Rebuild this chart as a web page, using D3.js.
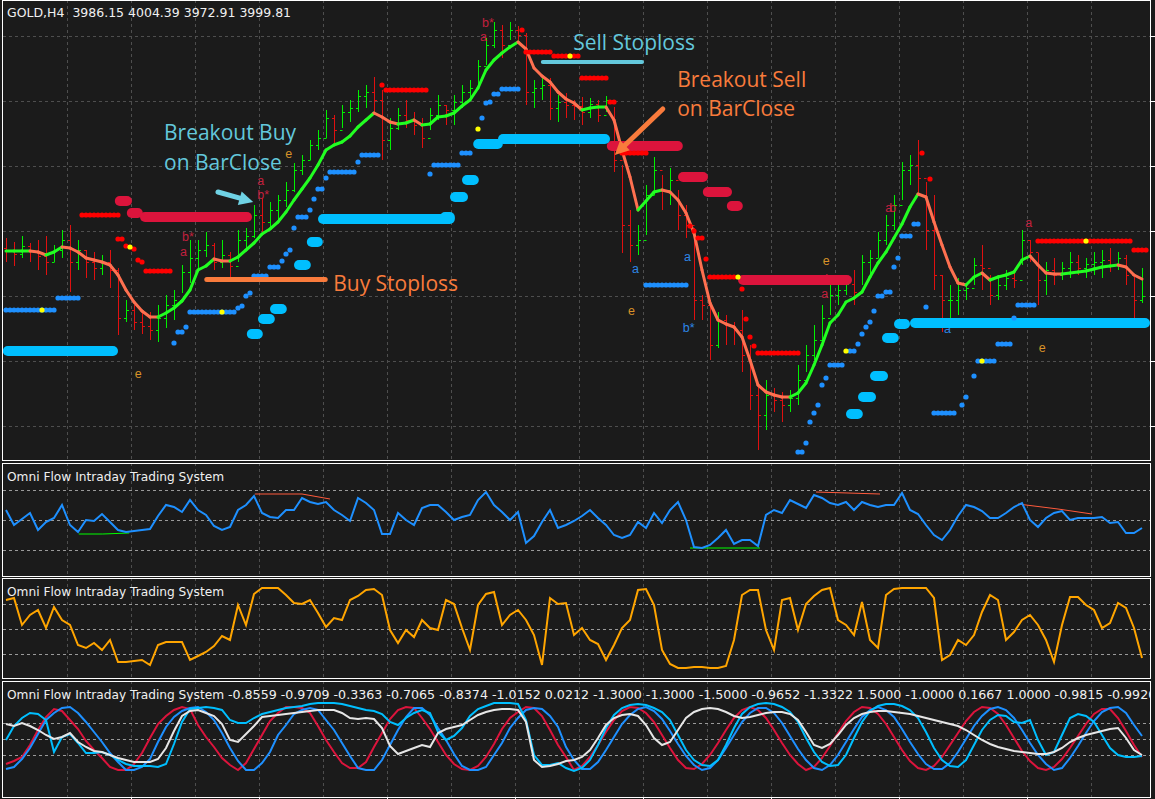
<!DOCTYPE html>
<html>
<head>
<meta charset="utf-8">
<title>GOLD,H4 - Omni Flow Intraday Trading System</title>
<style>
body { margin: 0; background: #1b1b1b; overflow: hidden; }
svg { display: block; }
</style>
</head>
<body>
<script src="https://cdn.jsdelivr.net/npm/d3@7"></script>
<script>
// ---- price bars (H4) ----
var firstOpen = 4048;
var barHigh = [4058,4054,4060,4053,4056,4060,4051,4066,4071,4056, 4046,4044,4041,4046,4028,3996,3991,3986,3984,3991,
  4001,4006,4031,4056,4056,4064,4053,4056,4044,4066, 4068,4091,4098,4094,4101,4114,4133,4141,4156,4166,
  4186,4181,4191,4196,4206,4211,4219,4206,4178,4188, 4196,4184,4178,4188,4201,4191,4201,4211,4216,4236,
  4258,4274,4271,4274,4270,4263,4216,4221,4218,4201, 4203,4196,4199,4198,4196,4200,4189,4131,4086,4071,
  4111,4139,4121,4128,4106,4091,4068,4001,3996,3984, 3981,3974,3986,3951,3911,3916,3908,3904,3906,3931,
  3951,3971,3991,4013,4011,4018,4026,4041,4046,4064, 4081,4101,4134,4141,4156,4114,4101,4021,4011,4018,
  4013,4038,4051,4021,4021,4026,4024,4066,4056,4043, 4034,4038,4034,4044,4041,4038,4044,4046,4048,4044,
  4041,4019,4028];
var barLow = [4034,4030,4038,4034,4026,4021,4034,4038,4004,4026, 4018,4016,4021,4008,3961,3974,3966,3962,3956,3954,
  3968,3976,4003,4013,4024,4039,4026,4028,4016,4034, 4046,4058,4064,4068,4076,4089,4104,4121,4136,4146,
  4158,4153,4168,4174,4184,4188,4184,4136,4146,4166, 4168,4161,4148,4166,4176,4171,4171,4188,4196,4211,
  4231,4248,4238,4256,4254,4191,4188,4196,4176,4174, 4178,4176,4171,4178,4174,4184,4124,4043,4034,4041,
  4061,4101,4086,4091,4066,4058,3976,3976,3936,3948, 3951,3951,3924,3886,3846,3866,3884,3874,3884,3891,
  3924,3936,3951,3981,3991,4001,3991,4011,4021,4038, 4051,4066,4096,4111,4101,4046,4006,3964,3976,3981,
  3996,4011,4006,3991,3996,4006,4008,4031,4034,3991, 4001,4011,4016,4018,4021,4018,4021,4018,4024,4026,
  4011,3976,3993];
var barClose = [4046,4042,4050,4045,4040,4034,4046,4056,4034,4046, 4034,4028,4034,4026,3978,3986,3974,3970,3966,3978,
  3991,3996,4024,4038,4046,4051,4034,4041,4030,4056, 4060,4081,4074,4086,4096,4106,4126,4136,4151,4158,
  4178,4166,4184,4188,4200,4204,4196,4156,4168,4181, 4176,4171,4158,4181,4191,4186,4194,4204,4208,4230,
  4251,4266,4251,4266,4261,4204,4208,4211,4188,4194, 4191,4190,4184,4192,4181,4196,4136,4071,4051,4056,
  4101,4126,4106,4116,4081,4071,3996,3991,3951,3976, 3971,3966,3941,3901,3881,3901,3896,3891,3898,3916,
  3941,3956,3978,4001,4006,4012,4004,4034,4038,4056, 4071,4091,4126,4131,4118,4066,4021,3996,3996,4006,
  4008,4031,4028,4001,4011,4018,4016,4056,4044,4016, 4026,4021,4028,4034,4028,4032,4034,4036,4031,4038,
  4021,3996,3999.81];
// smoothed trend line
var trendLine = [4045,4045,4045,4045,4044,4041,4044,4049,4048,4044, 4038,4036,4034,4031,4021,4006,3994,3985,3979,3979,
  3983,3988,3995,4006,4026,4030,4037,4035,4035,4039, 4046,4053,4062,4067,4074,4084,4096,4107,4118,4131,
  4146,4151,4154,4160,4169,4176,4183,4179,4174,4172, 4173,4176,4171,4172,4179,4180,4183,4190,4196,4208,
  4226,4236,4243,4249,4254,4247,4228,4220,4214,4204, 4197,4193,4186,4188,4189,4189,4176,4146,4119,4086,
  4095,4104,4106,4104,4096,4083,4063,4026,3993,3976, 3972,3969,3959,3936,3911,3904,3901,3899,3899,3903,
  3913,3931,3951,3973,3981,3994,3998,4004,4019,4033, 4044,4058,4072,4089,4102,4099,4074,4051,4029,4013,
  4011,4019,4023,4016,4019,4021,4024,4036,4040,4031, 4023,4022,4022,4023,4024,4025,4027,4029,4030,4031,
  4029,4021,4017];

// stoploss dots: runs [fromBar, toBar, price] and single dots [bar, price]
var redRuns = [[9.5,14,4081],[17.5,20.5,4025],[47.5,52.5,4206],[65,68,4244],[68.5,71.5,4240],[72,75,4218],
  [77,80,4143],[88,91,4019],[94,99,3943],[129,140.5,4055],[141,142.5,4046]];
var redDots = [[14,4057],[14.5,4057],[15,4050],[16,4047],[16.5,4036],[17,4034],[47,4211],[64.5,4266],[75.5,4194],[76,4194],
  [85.5,4070],[86,4065],[86.5,4058],[87,4058],[87.5,4037],[92,4007],[92.5,3977],[93,3959],[93.5,3950],[114.5,4143],[115.5,4117]];
var blueRuns = [[0,6,3986],[6.5,9,3998],[23,28.5,3984],[31,32.5,4020],[40.5,43.5,4124],[44.5,46.5,4141],[53.5,56.5,4131],
  [57,58,4143],[61,61.5,4202],[62,64,4207],[80,85,4011],[103,104.5,3931],[109,109.5,4000],[110,110.5,4004],[112,113,4060],
  [113.5,114,4072],[116,118.5,3883],[121.5,123.5,3935],[124,125.5,3952],[126.5,128.5,3991]];
var blueDots = [[21,3953],[21.5,3964],[22,3964],[22.5,3969],[29,3988],[29.5,3990],[30,4000],[30.5,4003],[33,4029],[33.5,4029],
  [34,4029],[34.5,4035],[35,4042],[35.5,4046],[36,4068],[36.5,4079],[37,4079],[37.5,4079],[38,4086],[38.5,4097],[39,4107],
  [39.5,4107],[40,4118],[44,4134],[53,4122],[59.5,4178],[60,4193],[60.5,4194],[99,3844],[99.5,3844],[100,3853],[100.5,3874],
  [101,3883],[101.5,3891],[102,3911],[102.5,3918],[105.5,3945],[106,3945],[106.5,3952],[107,3962],[107.5,3969],[108,3974],
  [108.5,3985],[111,4029],[111.5,4038],[115,3989],[119.5,3891],[120,3899],[121,3920],[126,3978]];
var yellowDots = [[15.5,4049],[70.5,4240],[91.5,4019],[135,4055],[4.5,3986],[27,3984],[59,4167],[105,3945],[122,3935]];

// breakout bands [fromBar, toBar, price]
var sellBands = [[13.6,15.75,4095],[15.1,17.1,4083],[16.75,30.75,4079],[75.1,84.6,4150],[84,87.75,4119],[87.1,90.75,4104],
  [90.1,92.1,4090],[91.5,105.75,4016]];
var buyBands = [[-0.4,14,3945],[30.1,32.1,3962],[31.5,33.6,3977],[33,35.1,3987],[36,38.1,4031],[37.6,39.6,4054],[39,56.1,4077],
  [54.25,56.1,4079],[55.5,57.75,4099],[57,59.1,4116],[58.4,62.1,4152],[61.5,75.5,4157],[105,107.1,3882],[106.5,108.75,3899],
  [108,110.25,3920],[109.5,111.6,3958],[111,113,3972],[113,143,3973]];

// letter signals [bar, price, text, kind]
var signalMarks = [[31.4,4111,"a","s"],[31.4,4097,"b*","s"],[22,4055,"b*","s"],[21.75,4040,"a","s"],
  [59.5,4269,"b*","s"],[59.25,4255,"a","s"],[16.1,3918,"e","e"],[34.9,4138,"e","e"],[78.25,4023,"a","b"],
  [84.75,4035,"a","b"],[77.75,3981,"e","e"],[102.1,4031,"e","e"],[102.4,4013,"b","s"],[101.9,3998,"a","s"],
  [84.6,3964,"b*","b"],[109.9,4084,"ab","s"],[127.4,4069,"a","s"],[117.25,3963,"a","b"],[129.1,3944,"e","e"]];

// ---- oscillator panels ----
var flowLine = [60,45,51,57,40,48,52,65,45,38, 50,49,56,48,40,38,39,40,41,54, 65,63,58,70,60,55,44,40,43,60,
  65,74,57,53,52,60,60,72,68,66, 68,60,55,49,72,67,60,36,36,57, 50,45,62,65,65,58,50,53,55,70,
  78,65,58,50,58,27,34,48,60,42, 45,49,54,60,52,45,35,32,35,48, 42,57,47,60,68,50,23,22,25,32,
  40,26,30,30,24,55,60,57,70,66, 62,75,72,67,65,68,60,68,65,63, 65,65,77,60,56,45,35,30,40,54,
  65,63,59,52,52,57,63,67,50,43, 52,57,59,50,52,52,52,53,47,48, 37,37,42];
var flowDivRed = [[[31.1,76],[37,76],[40.5,71]], [[101.25,78],[109.25,76]], [[126.5,66],[131.5,61],[135.75,56]]];
var flowDivGreen = [[[9.1,36],[12.1,36],[15.4,37]], [[85.5,22],[94.25,22]]];
var flowLevels = [80, 50, 20];

var stochLine = [79,81,54,64,69,51,72,59,54,34, 31,36,29,39,17,17,18,19,14,34, 37,37,37,19,23,27,33,43,39,74,
  54,85,91,91,91,84,76,75,79,66, 52,61,59,79,83,89,90,84,49,36, 49,42,59,51,49,79,75,51,29,74,
  85,87,54,64,69,59,44,14,81,75, 76,44,51,39,35,19,34,51,59,89, 90,74,29,15,11,11,12,12,11,11,
  13,39,84,89,89,49,29,79,81,49, 75,83,89,91,59,54,44,77,39,31, 84,90,91,91,91,91,81,19,24,39,
  34,44,67,84,79,39,47,59,64,54, 39,17,54,82,82,74,69,51,56,76, 71,51,21];
var stochLevels = [75, 50, 25];

var waveRed = [-25,-22,-18,-6,9,22,30,28,19,10, -2,-11,-19,-28,-31,-31,-25,-14,1,15,
  23,29,32,30,14,2,-8,-19,-26,-31, -24,-10,4,18,26,32,32,31,26,13,
  -1,-13,-24,-29,-29,-23,-8,6,20,29, 32,31,21,10,-3,-16,-25,-30,-31,-27,
  -18,-5,10,21,27,32,31,23,9,-6, -18,-31,
  -27,-18,-6,7,19,28,32,31,26,17, 4,-9,-21,-29,-30,-25,-16,-4,9,21,
  29,32,29,21,9,-4,-16,-25,-31,-28, -19,-7,6,18,27,32,31,25,15,2,
  -11,-22,-29,-31,-27,-18,-6,6,18,27, 32,31,25,14,1,-12,-22,-29,-31,-28,
  -20,-9,3,15,25,30,30,21,8,-6, -18];
var waveBlue = [-30,-28,-20,-9,5,19,26,31,32,26, 17,7,-3,-14,-23,-31,-31,-28,-20,-3,
  12,22,28,31,32,27,19,6,-9,-22, -31,-31,-24,-13,4,14,25,29,31,29,
  19,9,-4,-17,-29,-31,-31,-21,-6,9, 22,31,31,24,11,-1,-15,-27,-31,-31,
  -28,-16,-4,11,21,29,31,30,23,12, -8,-21,
  -30,-30,-23,-11,2,15,24,30,32,28, 20,8,-5,-17,-26,-31,-29,-21,-9,4,
  17,26,31,31,26,16,3,-10,-21,-29, -31,-26,-16,-3,10,22,29,32,29,22,
  10,-3,-15,-25,-30,-30,-24,-13,0,13, 23,30,32,29,21,9,-4,-16,-25,-31,
  -29,-19,-7,6,18,27,31,32,26,14, 3];
var waveSky = [-1,13,21,26,25,19,-13,2,5,-4, -14,-14,-13,-16,-21,-25,-27,-27,-27,-28,
  -25,-5,17,30,31,32,31,29,19,16, 16,21,25,27,29,31,32,33,35,36,
  36,36,35,33,31,29,28,25,17,14, 21,26,29,26,7,-1,3,11,23,30,
  33,36,36,36,35,19,-16,-26,-26,-24, -29,-32,
  -29,-21,-6,11,24,31,34,35,34,31, 27,19,4,-11,-21,-26,-27,-21,-6,11,
  25,32,35,36,35,32,27,17,1,-13, -23,-27,-26,-16,1,17,28,33,35,35,
  33,29,21,7,-9,-21,-27,-28,-21,-6, 9,19,24,23,17,16,19,-1,-16,-13,
  4,21,25,23,17,4,-9,-16,-18,-18, -17];
var waveWhite = [15,13,16,13,9,4,0,2,6,-3, -8,-12,-13,-16,-19,-21,-23,-23,-23,-20,
  -9,8,23,28,29,26,23,15,-1,-3, 5,13,22,23,24,25,26,27,28,29,
  29,29,26,21,20,21,20,11,-7,-15, -12,-9,-6,-8,6,10,12,14,19,24,
  27,29,30,30,29,17,-21,-28,-27,-25, -22,-21,
  -18,-11,1,14,21,24,25,23,14,1, -6,-3,9,21,27,30,31,30,27,23,
  21,22,24,26,27,27,25,19,7,-6, -9,-5,4,14,21,25,27,28,28,27,
  26,25,23,21,19,17,15,13,9,4, -1,-5,-8,-10,-12,-13,-14,-15,-15,-13,
  -9,-3,1,4,6,8,10,11,1,-11, -16];
var waveLevels = [16, 0, -16];

var priceGrid = [4260, 4195, 4130, 4065, 4000, 3935, 3870];
var headText = "GOLD,H4  3986.15 4004.39 3972.91 3999.81";
var panelName = "Omni Flow Intraday Trading System";
var waveReadout = [-0.8559,-0.9709,-0.3363,-0.7065,-0.8374,-1.0152,0.0212,-1.3000,-1.3000,-1.5000,-0.9652,-1.3322,1.5000,-1.0000,0.1667,1.0000,-0.9815,-0.9920];

// ---- setup ----
var W = 1155, H = 799;
var BG = "#1b1b1b", GRID = "#4e4e4e";
var GREEN = "#00f000", RED = "#e01010";
var CYAN_NOTE = "#63c8dc", ORANGE_NOTE = "#f97b3c";

var svg = d3.select("body").append("svg").attr("width", W).attr("height", H);
svg.append("rect").attr("width", W).attr("height", H).attr("fill", BG);
var defs = svg.append("defs");

var x = d3.scaleLinear().domain([0, 142]).range([6, 1142]);
var yMain = d3.scaleLinear().domain([3836, 4296]).range([460, 0]);
var yFlow = d3.scaleLinear().domain([0, 100]).range([570, 470]);
var yStoch = d3.scaleLinear().domain([0, 100]).range([679, 579]);
var yWave = d3.scaleLinear().domain([-40, 40]).range([779, 699]);

var panels = [
  {id: "pMain", top: 0, bottom: 460},
  {id: "pFlow", top: 463, bottom: 576},
  {id: "pStoch", top: 578, bottom: 678},
  {id: "pWave", top: 681, bottom: 797}
];

panels.forEach(function(p) {
  defs.append("clipPath").attr("id", p.id)
    .append("rect").attr("x", 3).attr("y", p.top + 1).attr("width", 1147).attr("height", p.bottom - p.top - 1);
});

var gridBars = d3.range(7.625, 143, 8);

function panelGrid(p, levels, yScale) {
  var g = svg.append("g").attr("clip-path", "url(#" + p.id + ")");
  g.selectAll(".vg").data(gridBars).enter().append("line")
    .attr("x1", d => Math.round(x(d)) + 0.5).attr("x2", d => Math.round(x(d)) + 0.5)
    .attr("y1", p.top).attr("y2", p.bottom)
    .attr("stroke", GRID).attr("stroke-dasharray", "3,3");
  g.selectAll(".hg").data(levels).enter().append("line")
    .attr("x1", 3).attr("x2", 1150)
    .attr("y1", d => Math.round(yScale(d)) + 0.5).attr("y2", d => Math.round(yScale(d)) + 0.5)
    .attr("stroke", p.id == "pMain" ? GRID : "#9a9a9a").attr("stroke-dasharray", "3,3");
  return g;
}

// ---- main chart ----
var gMain = panelGrid(panels[0], priceGrid, yMain);

var bars = barClose.map(function(c, i) {
  return {i: i, o: i ? barClose[i - 1] : firstOpen, h: barHigh[i], l: barLow[i], c: c};
});
var barG = gMain.selectAll(".bar").data(bars).enter().append("g")
  .attr("stroke", d => d.c >= d.o ? GREEN : RED).attr("stroke-width", 1);
barG.append("line")
  .attr("x1", d => x(d.i) + 0.5).attr("x2", d => x(d.i) + 0.5)
  .attr("y1", d => yMain(d.h)).attr("y2", d => yMain(d.l));
barG.append("line")
  .attr("x1", d => x(d.i) - 2).attr("x2", d => x(d.i) + 0.5)
  .attr("y1", d => Math.round(yMain(d.o)) + 0.5).attr("y2", d => Math.round(yMain(d.o)) + 0.5);
barG.append("line")
  .attr("x1", d => x(d.i) + 0.5).attr("x2", d => x(d.i) + 3)
  .attr("y1", d => Math.round(yMain(d.c)) + 0.5).attr("y2", d => Math.round(yMain(d.c)) + 0.5);

// trend line, coloured by direction
var trendSegs = [];
var lastCol = "#22ff22";
for (var i = 0; i < trendLine.length - 1; i++) {
  if (trendLine[i + 1] > trendLine[i]) lastCol = "#22ff22";
  else if (trendLine[i + 1] < trendLine[i]) lastCol = "#ff7050";
  trendSegs.push({a: i, b: i + 1, col: lastCol});
}
gMain.selectAll(".trend").data(trendSegs).enter().append("line")
  .attr("x1", d => x(d.a)).attr("x2", d => x(d.b))
  .attr("y1", d => yMain(trendLine[d.a])).attr("y2", d => yMain(trendLine[d.b]))
  .attr("stroke", d => d.col).attr("stroke-width", 3).attr("stroke-linecap", "round");

// letters sit under the bands
var markCol = {s: "#c3203e", b: "#2d86e6", e: "#d89228"};
gMain.selectAll(".mark").data(signalMarks).enter().append("text")
  .attr("x", d => x(d[0])).attr("y", d => yMain(d[1]))
  .attr("font-family", "'Liberation Sans', Arial, sans-serif").attr("font-size", 12.5)
  .attr("letter-spacing", d => d[2] == "ab" ? -3 : 0)
  .attr("fill", d => markCol[d[3]]).text(d => d[2]);

// thick breakout bands
function bands(data, col) {
  gMain.selectAll(null).data(data).enter().append("rect")
    .attr("x", d => x(d[0])).attr("width", d => x(d[1]) - x(d[0]))
    .attr("y", d => yMain(d[2]) - 5).attr("height", 10).attr("rx", 5)
    .attr("fill", col);
}
bands(sellBands, "#dc143c");
bands(buyBands, "#00bfff");

// stop dots
function expandRuns(runs) {
  var out = [];
  runs.forEach(function(r) {
    d3.range(r[0], r[1] + 0.01, 0.5).forEach(function(b) { out.push([b, r[2]]); });
  });
  return out;
}
function dots(data, col) {
  gMain.selectAll(null).data(data).enter().append("circle")
    .attr("cx", d => x(d[0])).attr("cy", d => yMain(d[1])).attr("r", 2.6).attr("fill", col);
}
dots(expandRuns(redRuns).concat(redDots), "#ff0000");
dots(expandRuns(blueRuns).concat(blueDots), "#1e90ff");
dots(yellowDots, "#ffff00");

// ---- annotations ----
var notes = [
  {t: "Breakout Buy", b: 19.75, p: 4156, c: CYAN_NOTE},
  {t: "on BarClose", b: 19.75, p: 4126, c: CYAN_NOTE},
  {t: "Sell Stoploss", b: 70.9, p: 4246, c: CYAN_NOTE},
  {t: "Breakout Sell", b: 83.9, p: 4209, c: ORANGE_NOTE},
  {t: "on BarClose", b: 83.9, p: 4180, c: ORANGE_NOTE},
  {t: "Buy Stoploss", b: 40.9, p: 4005, c: ORANGE_NOTE}
];
var noteLines = [
  {from: [67.1, 4234], to: [79.5, 4234], c: CYAN_NOTE, w: 4},
  {from: [25.1, 4016.5], to: [39.9, 4016.5], c: ORANGE_NOTE, w: 5}
];
var noteArrows = [
  {from: [26.5, 4104], to: [30.9, 4094], c: "#6fd2e4"},
  {from: [82.1, 4187], to: [76.1, 4141], c: ORANGE_NOTE}
];
var gNote = svg.append("g").attr("clip-path", "url(#pMain)");
gNote.selectAll(".nl").data(noteLines).enter().append("line")
  .attr("x1", d => x(d.from[0])).attr("y1", d => yMain(d.from[1]))
  .attr("x2", d => x(d.to[0])).attr("y2", d => yMain(d.to[1]))
  .attr("stroke", d => d.c).attr("stroke-width", d => d.w).attr("stroke-linecap", "round");
noteArrows.forEach(function(a) {
  var x0 = x(a.from[0]), y0 = yMain(a.from[1]), x1 = x(a.to[0]), y1 = yMain(a.to[1]);
  var ang = Math.atan2(y1 - y0, x1 - x0), len = 14, half = 7;
  var bx = x1 - len * Math.cos(ang), by = y1 - len * Math.sin(ang);
  gNote.append("line").attr("x1", x0).attr("y1", y0).attr("x2", bx).attr("y2", by)
    .attr("stroke", a.c).attr("stroke-width", 5).attr("stroke-linecap", "round");
  gNote.append("path")
    .attr("d", "M" + x1 + "," + y1 +
      "L" + (bx + half * Math.sin(ang)) + "," + (by - half * Math.cos(ang)) +
      "L" + (bx - half * Math.sin(ang)) + "," + (by + half * Math.cos(ang)) + "Z")
    .attr("fill", a.c);
});
gNote.selectAll(".nt").data(notes).enter().append("text")
  .attr("x", d => x(d.b)).attr("y", d => yMain(d.p))
  .attr("font-family", "'Open Sans', 'Noto Sans', sans-serif").attr("font-size", 21)
  .attr("fill", d => d.c).text(d => d.t);

// ---- flow panel ----
var gFlow = panelGrid(panels[1], flowLevels, yFlow);
var flowPath = d3.line().x(d => x(d[0])).y(d => yFlow(d[1]));
gFlow.selectAll(".dr").data(flowDivRed).enter().append("path")
  .attr("d", flowPath).attr("fill", "none").attr("stroke", "#ff5a3c").attr("stroke-width", 1);
gFlow.selectAll(".dg").data(flowDivGreen).enter().append("path")
  .attr("d", flowPath).attr("fill", "none").attr("stroke", "#00ff00").attr("stroke-width", 1);
gFlow.append("path").datum(flowLine)
  .attr("d", d3.line().x((d, i) => x(i)).y(d => yFlow(d)))
  .attr("fill", "none").attr("stroke", "#1e90ff").attr("stroke-width", 2);

// ---- stoch panel ----
var gStoch = panelGrid(panels[2], stochLevels, yStoch);
gStoch.append("path").datum(stochLine)
  .attr("d", d3.line().x((d, i) => x(i)).y(d => yStoch(d)))
  .attr("fill", "none").attr("stroke", "#ffa500").attr("stroke-width", 2);

// ---- wave panel ----
var gWave = panelGrid(panels[3], waveLevels, yWave);
var waveLine = d3.line().x((d, i) => x(i)).y(d => yWave(d));
[[waveRed, "#dc143c"], [waveBlue, "#1e90ff"], [waveSky, "#00bfff"], [waveWhite, "#e6e6e6"]].forEach(function(s) {
  gWave.append("path").datum(s[0]).attr("d", waveLine)
    .attr("fill", "none").attr("stroke", s[1]).attr("stroke-width", 2);
});

// ---- frames, ticks, titles ----
panels.forEach(function(p) {
  svg.append("rect").attr("x", 2.5).attr("y", p.top + 0.5).attr("width", 1148).attr("height", p.bottom - p.top)
    .attr("fill", "none").attr("stroke", "#ffffff").attr("stroke-width", 1);
});
svg.selectAll(".rt").data(priceGrid).enter().append("line")
  .attr("x1", 1151).attr("x2", 1155)
  .attr("y1", d => Math.round(yMain(d)) + 0.5).attr("y2", d => Math.round(yMain(d)) + 0.5)
  .attr("stroke", "#ffffff");
svg.selectAll(".bt").data(d3.range(15.625, 143, 16)).enter().append("line")
  .attr("x1", d => Math.round(x(d)) + 0.5).attr("x2", d => Math.round(x(d)) + 0.5)
  .attr("y1", 797).attr("y2", 799).attr("stroke", "#ffffff");

var titleFont = "'DejaVu Sans', Tahoma, sans-serif";
svg.append("text").attr("x", 7).attr("y", 17).attr("font-family", titleFont).attr("font-size", 12.5)
  .attr("fill", "#f0f0f0").attr("xml:space", "preserve").text(headText);
svg.append("text").attr("x", 7).attr("y", 481).attr("font-family", titleFont).attr("font-size", 12.2)
  .attr("fill", "#f0f0f0").text(panelName);
svg.append("text").attr("x", 7).attr("y", 596).attr("font-family", titleFont).attr("font-size", 12.2)
  .attr("fill", "#f0f0f0").text(panelName);
var waveTitle = svg.append("g").attr("clip-path", "url(#pWave)").append("text")
  .attr("x", 7).attr("y", 699).attr("font-family", titleFont).attr("font-size", 12.2)
  .attr("fill", "#f0f0f0");
waveTitle.append("tspan").text(panelName + " ");
waveTitle.append("tspan").attr("font-size", 12.65).text(waveReadout.map(v => v.toFixed(4)).join(" "));
</script>
</body>
</html>
